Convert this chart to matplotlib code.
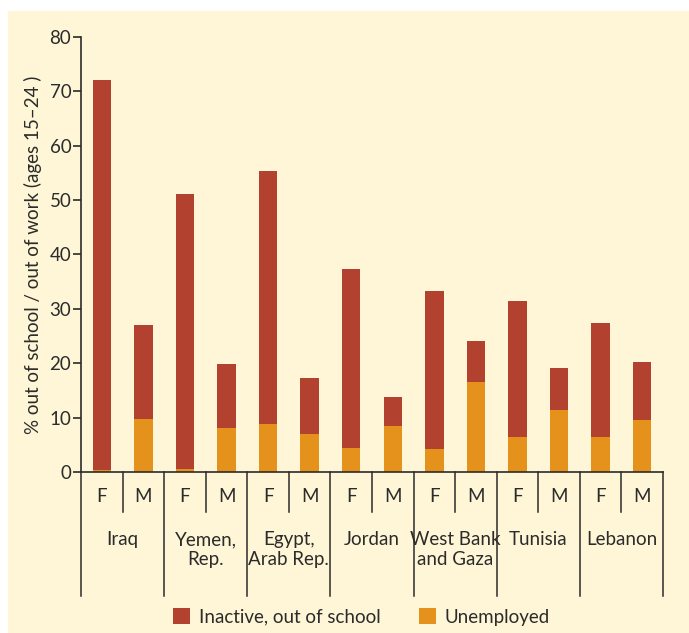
import numpy as np
import matplotlib
matplotlib.use("Agg")
import matplotlib.pyplot as plt
from matplotlib.patches import Rectangle

# Youth out of school / out of work, ages 15-24
countries = ["Iraq", "Yemen,\nRep.", "Egypt,\nArab Rep.", "Jordan",
             "West Bank\nand Gaza", "Tunisia", "Lebanon"]
sexes = ["F", "M"]
totals = [72.0, 27.0, 51.1, 19.9, 55.3, 17.3, 37.3, 13.8,
          33.3, 24.1, 31.5, 19.2, 27.4, 20.3]
unemployed = [0.3, 9.8, 0.5, 8.1, 8.9, 7.0, 4.5, 8.5,
              4.3, 16.6, 6.5, 11.4, 6.5, 9.6]
inactive = [t - u for t, u in zip(totals, unemployed)]

red = "#B34130"
orange = "#E5921C"
cream = "#FEF6D6"
ink = "#2b2b2b"

plt.rcParams["font.family"] = ["Lato", "DejaVu Sans"]

fig = plt.figure(figsize=(6.89, 6.33), dpi=100, facecolor="white")
fig.patches.append(Rectangle((8 / 689, 0), 1, 1 - 11 / 633,
                             transform=fig.transFigure, color=cream, zorder=-10))
ax = fig.add_axes([81 / 689, 1 - 472 / 633, (663 - 81) / 689, (472 - 36.7) / 633])
ax.set_facecolor("none")

x = np.arange(len(totals)) + 0.5
ax.bar(x, unemployed, width=0.44, color=orange, label="Unemployed")
ax.bar(x, inactive, width=0.44, bottom=unemployed, color=red,
       label="Inactive, out of school")

ax.set_xlim(0, len(totals))
ax.set_ylim(0, 80)
ax.set_yticks(range(0, 81, 10))
ax.tick_params(axis="y", direction="out", length=6, width=1.2, color=ink,
               labelsize=13.5, pad=1, labelcolor=ink)
ax.set_xticks([])
for s in ["top", "right"]:
    ax.spines[s].set_visible(False)
for s in ["left", "bottom"]:
    ax.spines[s].set_color(ink)
    ax.spines[s].set_linewidth(1.2)

ax.set_ylabel("% out of school / out of work (ages 15\u201324 )", fontsize=13.5,
              color=ink, labelpad=5)

# category axis below the bars
px = 435.3 / 80
for i in range(len(totals) + 1):
    low = -124 / px if i % 2 == 0 else -40 / px
    ax.plot([i, i], [0, low], color=ink, lw=1.1, clip_on=False)
for i, xi in enumerate(x):
    ax.text(xi, -25 / px, sexes[i % 2], ha="center", va="center",
            fontsize=13.5, color=ink)
for k, name in enumerate(countries):
    ax.text(2 * k + 1, -59 / px, name, ha="center", va="top",
            fontsize=13.5, color=ink, linespacing=1.2)

handles, labels = ax.get_legend_handles_labels()
fig.legend(handles[::-1], labels[::-1], loc="center", ncol=2,
           bbox_to_anchor=(0.525, 1 - 617 / 633), frameon=False, fontsize=13.5,
           handlelength=0.9, handleheight=0.9, handletextpad=0.5,
           columnspacing=2.0, labelcolor=ink)

fig.savefig("out.png", dpi=100, facecolor=fig.get_facecolor())
